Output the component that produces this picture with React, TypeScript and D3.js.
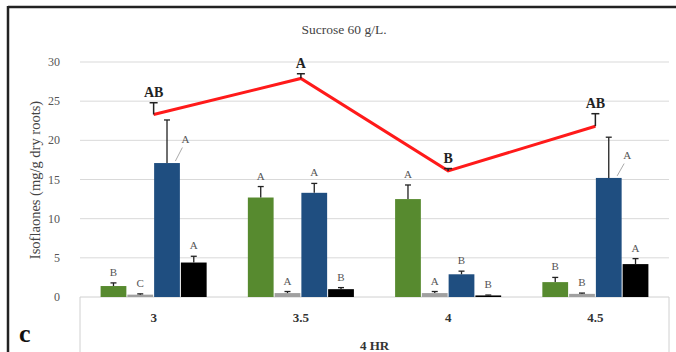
import React from "react";
import * as d3 from "d3";

const categories = ["3", "3.5", "4", "4.5"];
const seriesNames = ["green", "grey", "blue", "black"];
const seriesColors = ["#578a2f", "#a0a0a0", "#1f4e80", "#000000"];
const greenValues = [1.4, 12.7, 12.5, 1.9];
const greenErrors = [0.4, 1.4, 1.8, 0.6];
const greyValues = [0.3, 0.5, 0.5, 0.4];
const greyErrors = [0.1, 0.2, 0.2, 0.1];
const blueValues = [17.1, 13.3, 2.9, 15.2];
const blueErrors = [5.5, 1.2, 0.4, 5.2];
const blackValues = [4.4, 1.0, 0.2, 4.2];
const blackErrors = [0.8, 0.2, 0.05, 0.7];
const greenLetters = ["B", "A", "A", "B"];
const greyLetters = ["C", "A", "A", "B"];
const blueLetters = ["A", "A", "B", "A"];
const blackLetters = ["A", "B", "B", "A"];
const lineValues = [23.3, 27.9, 16.1, 21.8];
const lineErrors = [1.5, 0.6, 0.3, 1.6];
const lineLetters = ["AB", "A", "B", "AB"];
const yTicks = [0, 5, 10, 15, 20, 25, 30];
const title = "Sucrose 60 g/L.";
const yTitle = "Isoflaones (mg/g dry roots)";
const xTitle = "4 HR";
const panelLetter = "c";

const W = 676;
const H = 352;
const plotLeft = 80;
const plotRight = 669;
const serif = "'Liberation Serif', 'Times New Roman', serif";

export default function App() {
  const y = d3.scaleLinear().domain([0, 30]).range([297, 62]);
  const x0 = d3
    .scaleBand<string>()
    .domain(categories)
    .range([plotLeft, plotRight])
    .paddingInner(0.273)
    .paddingOuter(0.1365);
  const x1 = d3.scaleBand<string>().domain(seriesNames).range([0, x0.bandwidth()]).padding(0);

  const values = [greenValues, greyValues, blueValues, blackValues];
  const errors = [greenErrors, greyErrors, blueErrors, blackErrors];
  const letters = [greenLetters, greyLetters, blueLetters, blackLetters];

  const centerX = (c: string) => (x0(c) as number) + x0.bandwidth() / 2;
  const line = d3
    .line<number>()
    .x((_, i) => centerX(categories[i]))
    .y((d) => y(d));

  const bars: React.ReactNode[] = [];
  const errs: React.ReactNode[] = [];
  const labels: React.ReactNode[] = [];
  categories.forEach((c, ci) => {
    seriesNames.forEach((s, si) => {
      const v = values[si][ci];
      const e = errors[si][ci];
      const bx = (x0(c) as number) + (x1(s) as number);
      const bw = x1.bandwidth();
      const cx = bx + bw / 2;
      bars.push(
        <rect key={`b${ci}${si}`} x={bx + 0.5} y={y(v)} width={bw - 1} height={y(0) - y(v)} fill={seriesColors[si]} />
      );
      const top = y(v + e);
      errs.push(
        <g key={`e${ci}${si}`} stroke="#222" strokeWidth={1.3}>
          <line x1={cx} x2={cx} y1={y(v)} y2={top} />
          <line x1={cx - 3} x2={cx + 3} y1={top} y2={top} />
        </g>
      );
      if (e > 3) {
        const my = (y(v) + top) / 2;
        labels.push(
          <g key={`l${ci}${si}`}>
            <line x1={bx + bw - 5} y1={y(v) - 2} x2={bx + bw + 2} y2={my + 6} stroke="#aaa" strokeWidth={1} />
            <text x={bx + bw + 5} y={my + 1} fontSize={11} fill="#555" textAnchor="middle" fontFamily={serif}>
              {letters[si][ci]}
            </text>
          </g>
        );
      } else {
        labels.push(
          <text key={`l${ci}${si}`} x={cx} y={top - 7} fontSize={11} fill="#555" textAnchor="middle" fontFamily={serif}>
            {letters[si][ci]}
          </text>
        );
      }
    });
  });

  return (
    <svg width={W} height={H} style={{ position: "absolute", left: 0, top: 0, background: "#fff" }}>
      <rect x={0} y={0} width={W} height={H} fill="#fff" />
      <line x1={8} x2={W} y1={7} y2={7} stroke="#222" strokeWidth={2.5} />
      <line x1={8} x2={8} y1={6} y2={H} stroke="#222" strokeWidth={2.5} />
      {yTicks.filter((t) => t > 0).map((t) => (
        <line key={`g${t}`} x1={plotLeft} x2={plotRight} y1={y(t)} y2={y(t)} stroke="#d9d9d9" strokeWidth={1} />
      ))}
      <line x1={plotLeft} x2={plotRight} y1={y(0)} y2={y(0)} stroke="#d0d0d0" strokeWidth={1} />
      <line x1={plotLeft} x2={plotLeft} y1={y(0)} y2={H} stroke="#d0d0d0" strokeWidth={1} />
      <line x1={plotRight} x2={plotRight} y1={y(0)} y2={H} stroke="#d0d0d0" strokeWidth={1} />
      {yTicks.map((t) => (
        <text key={`t${t}`} x={60} y={y(t) + 4} fontSize={12} fill="#555" textAnchor="end" fontFamily={serif}>
          {t}
        </text>
      ))}
      <text
        transform={`translate(40, ${180}) rotate(-90)`}
        fontSize={14.5}
        fill="#444"
        textAnchor="middle"
        fontFamily={serif}
      >
        {yTitle}
      </text>
      <text x={344} y={34} fontSize={13.5} fill="#444" textAnchor="middle" fontFamily={serif}>
        {title}
      </text>
      {bars}
      {errs}
      {labels}
      <path d={line(lineValues) || ""} fill="none" stroke="#ff1a1a" strokeWidth={3} strokeLinejoin="miter" />
      {categories.map((c, i) => {
        const cx = centerX(c);
        const top = y(lineValues[i] + lineErrors[i]);
        return (
          <g key={`le${i}`}>
            <g stroke="#222" strokeWidth={1.5}>
              <line x1={cx} x2={cx} y1={y(lineValues[i])} y2={top} />
              <line x1={cx - 4} x2={cx + 4} y1={top} y2={top} />
            </g>
            <text x={cx} y={top - 6} fontSize={14} fontWeight="bold" fill="#222" textAnchor="middle" fontFamily={serif}>
              {lineLetters[i]}
            </text>
          </g>
        );
      })}
      {categories.map((c) => (
        <text key={`c${c}`} x={centerX(c)} y={322} fontSize={13} fontWeight="bold" fill="#333" textAnchor="middle" fontFamily={serif}>
          {c}
        </text>
      ))}
      <text x={(plotLeft + plotRight) / 2} y={350} fontSize={13} fontWeight="bold" fill="#333" textAnchor="middle" fontFamily={serif}>
        {xTitle}
      </text>
      <text x={19} y={342} fontSize={26} fontWeight="bold" fill="#111" fontFamily={serif}>
        {panelLetter}
      </text>
    </svg>
  );
}
